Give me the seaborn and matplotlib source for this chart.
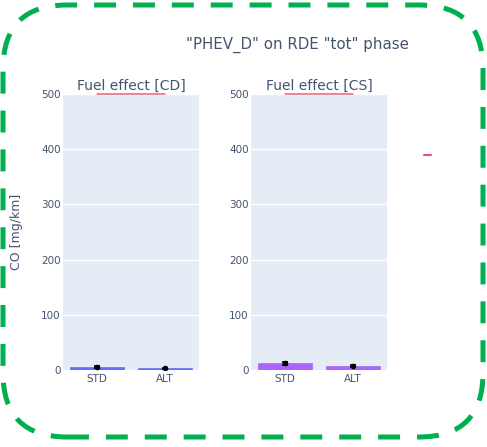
import matplotlib
matplotlib.use("Agg")
import matplotlib.pyplot as plt
from matplotlib.patches import FancyBboxPatch
from matplotlib.lines import Line2D
import seaborn as sns
import pandas as pd

# Data
categories = ["STD", "ALT"]
cd_values = [6, 3]
cd_errors = [1.5, 1.0]
cs_values = [12, 7]
cs_errors = [3.0, 1.5]
limit_value = 500
panel_titles = ["Fuel effect [CD]", "Fuel effect [CS]"]
y_ticks = [0, 100, 200, 300, 400, 500]

sns.set_theme(style="white")
plt.rcParams["font.family"] = ["DejaVu Sans"]
plt.rcParams["lines.scale_dashes"] = False

TEXT = "#44546f"
PANEL = "#E5ECF6"
LIMIT = "#E8506E"

W, H = 487, 447
fig = plt.figure(figsize=(W / 100, H / 100), dpi=100)

def ax_rect(x0, x1, y_top, y_bot):
    return [x0 / W, 1 - y_bot / H, (x1 - x0) / W, (y_bot - y_top) / H]

ax_cd = fig.add_axes(ax_rect(63, 199, 94, 370))
ax_cs = fig.add_axes(ax_rect(251, 387, 94, 370))

panels = [
    (ax_cd, cd_values, cd_errors, "#636EFA", panel_titles[0]),
    (ax_cs, cs_values, cs_errors, "#AB63FA", panel_titles[1]),
]

for ax, vals, errs, color, title in panels:
    df = pd.DataFrame({"fuel": categories, "value": vals})
    sns.barplot(data=df, x="fuel", y="value", ax=ax, color=color,
                width=0.8, saturation=1, edgecolor=color, linewidth=0.5,
                errorbar=None, zorder=3)
    ax.errorbar(categories, vals, yerr=errs, fmt="o", color="black",
                markersize=3, capsize=2.5, elinewidth=1.2, capthick=1.2,
                zorder=4)
    ax.plot(categories, [limit_value, limit_value], color=LIMIT, lw=1.1,
            alpha=0.9, zorder=4, clip_on=False)
    ax.set_facecolor(PANEL)
    ax.set_ylim(0, 500)
    ax.set_xlim(-0.5, 1.5)
    ax.set_yticks(y_ticks)
    ax.grid(axis="y", color="white", lw=1, zorder=0)
    ax.set_axisbelow(True)
    for s in ax.spines.values():
        s.set_visible(False)
    ax.tick_params(axis="y", length=0, labelsize=7.5, colors=TEXT, pad=1.5)
    ax.tick_params(axis="x", length=0, labelsize=7.5, colors=TEXT, pad=3)
    ax.set_xlabel("")
    ax.set_ylabel("")
    ax.set_title(title, fontsize=10, color=TEXT, pad=3)

fig.text(17 / W, 1 - 232 / H, "CO [mg/km]", rotation=90, ha="center",
         va="center", fontsize=9, color=TEXT)

fig.text(297 / W, 1 - 45 / H, '"PHEV_D" on RDE "tot" phase',
         ha="center", va="center", fontsize=10.8, color=TEXT)

# legend entry for the limit line (no name)
fig.legend(handles=[Line2D([], [], color=LIMIT, lw=1.5)], labels=[""],
           loc="center left", bbox_to_anchor=(424 / W, 1 - 156 / H),
           frameon=False, handlelength=0.45, borderpad=0, handletextpad=0,
           borderaxespad=0)

# dashed rounded frame
frame = FancyBboxPatch((3, 10), 480, 432,
                       boxstyle="round,pad=0,rounding_size=64",
                       transform=None, fill=False, edgecolor="#00B050",
                       linewidth=3.6, linestyle=(0, (15.8, 12.2)))
fig.patches.append(frame)

fig.savefig("out.png", dpi=100)
